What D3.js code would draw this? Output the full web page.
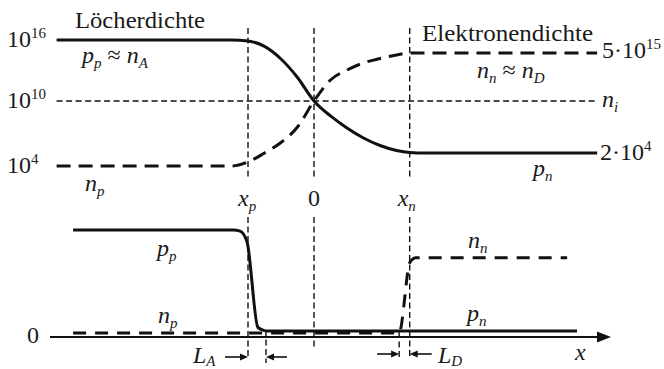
<!DOCTYPE html>
<html>
<head>
<meta charset="utf-8">
<script src="https://cdn.jsdelivr.net/npm/d3@7"></script>
</head>
<body style="margin:0">
<svg id="pn-diagram" width="664" height="369"></svg>
<script>
// Position along the device in arbitrary length units (0 = metallurgical junction)
const xp = -2;          // edge of the space-charge region on the p side
const xn = 2.9;         // edge of the space-charge region on the n side
const debyeA = 0.545;   // L_A
const debyeD = 0.32;    // L_D

// Upper panel: carrier densities (cm^-3) on a logarithmic axis
const topX = [-7.8, -2.5, -2, -1.5, -1, -0.5, 0, 0.5, 1, 1.5, 2, 2.5, 2.9, 3.4, 8.58];
const holesTop = [1e16, 1e16, 9.5e15, 7.1e15, 9.7e14, 6.2e12, 1e10, 2.3e8, 1.1e7, 8.8e5, 1.33e5, 3.8e4, 2.3e4, 2e4, 2e4];
const electronsTop = [1e4, 1e4, 1.24e4, 2e4, 2.8e5, 1.4e7, 1e10, 3.1e12, 4.8e13, 3.3e14, 1.1e15, 2.9e15, 5e15, 5e15, 5e15];
const leftTicks = [1e16, 1e10, 1e4];
const leftTickExp = ["16", "10", "4"];
const nA = 1e16, ni = 1e10, nD = 5e15, pn0 = 2e4, np0 = 1e4;

// Lower panel: the same densities on a linear axis (normalised to p_p)
const holesBottomX = [-7.3, -2.45, -2.24, -2.03, -1.7, -1.55, -1.39, 7.97];
const holesBottom = [1, 1, 0.99, 0.89, 0.09, 0.065, 0.056, 0.056];
const electronsBottomX = [-7.3, 2.5, 2.58, 2.91, 3.09, 7.67];
const electronsBottom = [0.037, 0.037, 0.04, 0.70, 0.74, 0.74];

const FONT = "'Liberation Serif', 'Times New Roman', serif";
const ink = "#111";

const svg = d3.select("#pn-diagram");

const x = d3.scaleLinear().domain([-8, 9]).range([50, 611]);
// schematic log axis: the labelled levels are spread out for readability
const yTop = d3.scaleLog().domain([np0, pn0, ni, nD, nA]).range([166, 153, 101, 53, 40]);
const yBot = d3.scaleLinear().domain([0, 1]).range([337, 230]);

function serif(sel) {
  sel.attr("font-family", FONT);
  sel.node().style.setProperty("font-family", FONT, "important");
  return sel;
}

// rich text helper: parts with optional italic / subscript / superscript
function rich(px, py, parts, size = 24) {
  const t = serif(svg.append("text"))
    .attr("x", px).attr("y", py)
    .attr("font-size", size)
    .attr("fill", "#1a1a1a");
  if (parts.length === 1 && !parts[0].i) {
    t.text(parts[0].t);
    return t;
  }
  let shift = 0;
  parts.forEach(p => {
    const s = serif(t.append("tspan")).text(p.t);
    const target = p.sub ? (p.subDy || 5) : p.sup ? -9 : 0;
    if (target - shift !== 0) s.attr("dy", target - shift);
    shift = target;
    s.attr("font-size", (p.sub || p.sup) ? 15 : size);
    if (p.i) s.attr("font-style", "italic");
  });
  return t;
}

// ---- guide lines ----
const guide = svg.append("g").attr("stroke", ink).attr("stroke-width", 1.4)
  .attr("stroke-dasharray", "6,3.5").attr("fill", "none");

guide.append("line")
  .attr("x1", x(-7.8)).attr("x2", x(8.58))
  .attr("y1", yTop(ni)).attr("y2", yTop(ni));

[[xp, 359], [0, 348], [xn, 358]].forEach(([v, yEnd]) => {
  guide.append("line").attr("x1", x(v)).attr("x2", x(v)).attr("y1", 28).attr("y2", 179);
  guide.append("line").attr("x1", x(v)).attr("x2", x(v)).attr("y1", 217).attr("y2", yEnd);
});
guide.append("line").attr("x1", x(xp + debyeA)).attr("x2", x(xp + debyeA)).attr("y1", 330).attr("y2", 363);
guide.append("line").attr("x1", x(xn - debyeD)).attr("x2", x(xn - debyeD)).attr("y1", 332).attr("y2", 359);

// ---- x axis with arrow ----
svg.append("line").attr("x1", 50).attr("x2", 600).attr("y1", yBot(0)).attr("y2", yBot(0))
  .attr("stroke", ink).attr("stroke-width", 2.2);
svg.append("path")
  .attr("d", `M597,${yBot(0) - 5.5}L611,${yBot(0)}L597,${yBot(0) + 5.5}Z`)
  .attr("fill", ink);

// ---- upper panel curves ----
const lineTop = d3.line().curve(d3.curveMonotoneX).x(d => x(d[0])).y(d => yTop(d[1]));
svg.append("path").datum(d3.zip(topX, holesTop)).attr("d", lineTop)
  .attr("fill", "none").attr("stroke", ink).attr("stroke-width", 3);
svg.append("path").datum(d3.zip(topX, electronsTop)).attr("d", lineTop)
  .attr("fill", "none").attr("stroke", ink).attr("stroke-width", 3)
  .attr("stroke-dasharray", "14,8");

// ---- lower panel curves ----
const lineBot = d3.line().curve(d3.curveMonotoneX).x(d => x(d[0])).y(d => yBot(d[1]));
svg.append("path").datum(d3.zip(electronsBottomX, electronsBottom)).attr("d", lineBot)
  .attr("fill", "none").attr("stroke", ink).attr("stroke-width", 3)
  .attr("stroke-dasharray", "13,9");
svg.append("path").datum(d3.zip(holesBottomX, holesBottom)).attr("d", lineBot)
  .attr("fill", "none").attr("stroke", ink).attr("stroke-width", 3);

// ---- length markers L_A and L_D ----
function arrow(from, to, yy) {
  const dir = Math.sign(to - from);
  svg.append("line").attr("x1", from).attr("x2", to - dir * 6).attr("y1", yy).attr("y2", yy)
    .attr("stroke", ink).attr("stroke-width", 1.6);
  svg.append("path").attr("d", `M${to},${yy}L${to - dir * 8},${yy - 3.5}L${to - dir * 8},${yy + 3.5}Z`)
    .attr("fill", ink);
}
arrow(x(xp) - 23, x(xp), 357);
arrow(x(xp + debyeA) + 21, x(xp + debyeA), 357);
arrow(x(xn - debyeD) - 22, x(xn - debyeD), 354);
arrow(x(xn) + 22, x(xn), 354);

// ---- labels ----
leftTicks.forEach((v, i) => {
  rich(7, yTop(v) + 7, [{ t: "10" }, { t: leftTickExp[i], sup: true }]);
});
rich(602, yTop(nD) + 5, [{ t: "5·10" }, { t: "15", sup: true }]);
rich(602, yTop(ni) + 6, [{ t: "n", i: true }, { t: "i", i: true, sub: true }]);
rich(600, yTop(pn0) + 7, [{ t: "2·10" }, { t: "4", sup: true }]);

// panel titles, held to their set width
rich(75, 28, [{ t: "Löcherdichte" }])
  .attr("textLength", 130).attr("lengthAdjust", "spacingAndGlyphs");
rich(422, 41, [{ t: "Elektronendichte" }])
  .attr("textLength", 171).attr("lengthAdjust", "spacingAndGlyphs");

rich(82, 63, [{ t: "p", i: true }, { t: "p", i: true, sub: true }, { t: " ≈ " }, { t: "n", i: true }, { t: "A", i: true, sub: true }]);
rich(477, 78, [{ t: "n", i: true }, { t: "n", i: true, sub: true }, { t: " ≈ " }, { t: "n", i: true }, { t: "D", i: true, sub: true }]);
rich(85, 191, [{ t: "n", i: true }, { t: "p", i: true, sub: true }]);
rich(533, 176, [{ t: "p", i: true }, { t: "n", i: true, sub: true }]);

rich(x(xp) - 10, 206, [{ t: "x", i: true }, { t: "p", i: true, sub: true }]);
rich(x(0), 206, [{ t: "0" }]).attr("text-anchor", "middle");
rich(x(xn) - 12, 206, [{ t: "x", i: true }, { t: "n", i: true, sub: true }]);

rich(157, 256, [{ t: "p", i: true }, { t: "p", i: true, sub: true }]);
rich(158, 323, [{ t: "n", i: true }, { t: "p", i: true, sub: true }]);
rich(468, 248, [{ t: "n", i: true }, { t: "n", i: true, sub: true }]);
rich(467, 321, [{ t: "p", i: true }, { t: "n", i: true, sub: true }]);
rich(27, 343, [{ t: "0" }]);
rich(193, 363, [{ t: "L", i: true }, { t: "A", i: true, sub: true, subDy: 3 }]);
rich(438, 363, [{ t: "L", i: true }, { t: "D", i: true, sub: true, subDy: 3 }]);
rich(575, 360, [{ t: "x", i: true }]);
</script>
</body>
</html>
